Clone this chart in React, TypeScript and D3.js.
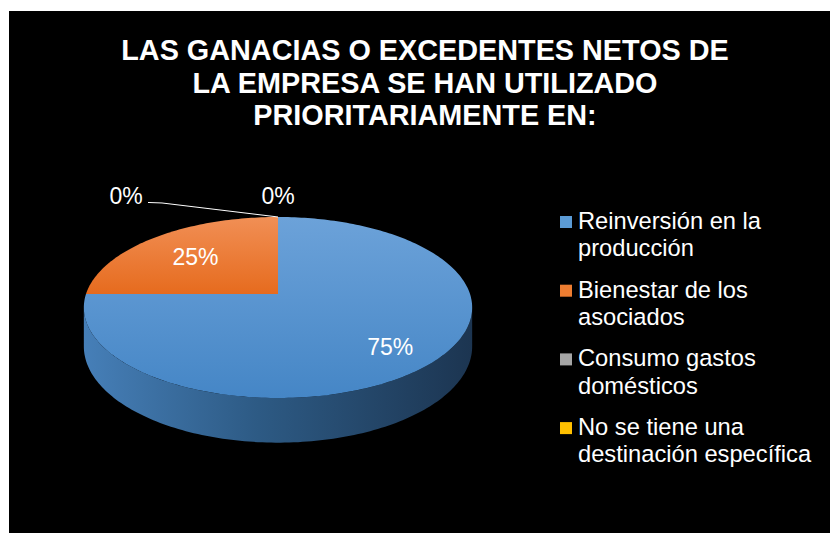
import * as d3 from "d3";

// chart data
const categories = [
  ["Reinversión en la", "producción"],
  ["Bienestar de los", "asociados"],
  ["Consumo gastos", "domésticos"],
  ["No se tiene una", "destinación específica"],
];
const values = [75, 25, 0, 0];
const colors = ["#5b9bd5", "#ed7d31", "#a5a5a5", "#ffc000"];
const titleLines = [
  "LAS GANACIAS O EXCEDENTES NETOS DE",
  "LA EMPRESA SE HAN UTILIZADO",
  "PRIORITARIAMENTE EN:",
];

const W = 830;
const H = 533;
const FONT = "'Liberation Sans', Arial, sans-serif";

// 3d pie geometry (simple perspective tilt)
const CX = 278;
const CY = 294;
const RX = 192;
const RY = 88.5;
const K = 0.149;
const DEPTH = 38;

function proj(theta: number, r = 1, dz = 0): [number, number] {
  const u = r * Math.sin(theta);
  const v = -r * Math.cos(theta);
  const s = 1 / (1 - K * v);
  return [CX + RX * u * s, CY + RY * v * s + dz * s];
}

function arcPoints(a0: number, a1: number, r = 1, dz = 0) {
  const n = Math.max(2, Math.ceil(Math.abs(a1 - a0) / 0.02));
  return d3.range(n + 1).map((i) => proj(a0 + ((a1 - a0) * i) / n, r, dz));
}

const line = d3.line();

export default function App() {
  const pie = d3
    .pie<number>()
    .sort(null)
    .startAngle(0)
    .endAngle(2 * Math.PI);
  const arcs = pie(values);
  const total = d3.sum(values);
  const pct = d3.format(".0%");

  // visible side: between the two silhouette points through the front
  const tR = Math.acos(-K);
  const tL = 2 * Math.PI - tR;
  const sideTop = arcPoints(tR, tL);
  const sideBottom = arcPoints(tL, tR, 1, DEPTH);
  const sidePath = line([...sideTop, ...sideBottom])! + "Z";

  const top0 = proj(0);
  const labelR = [0.76, 0.65];

  const legendX = 560;
  const legendY0 = 229;
  const legendStep = 68.7;
  const lineStep = 27.3;

  return (
    <div style={{ position: "absolute", left: 0, top: 0 }}>
      <svg width={W} height={H} style={{ display: "block" }}>
        <defs>
          <linearGradient id="side" x1="84" x2="472" y1="0" y2="0" gradientUnits="userSpaceOnUse">
            <stop offset="0%" stopColor="#467fb8" />
            <stop offset="45%" stopColor="#2d5a84" />
            <stop offset="100%" stopColor="#1c3551" />
          </linearGradient>
          <linearGradient id="g0" x1="0" x2="0" y1="217" y2="398" gradientUnits="userSpaceOnUse">
            <stop offset="0%" stopColor="#6ca2d9" />
            <stop offset="100%" stopColor="#4586c6" />
          </linearGradient>
          <linearGradient id="g1" x1="0" x2="0" y1="217" y2="294" gradientUnits="userSpaceOnUse">
            <stop offset="0%" stopColor="#f18f55" />
            <stop offset="100%" stopColor="#e66b1e" />
          </linearGradient>
        </defs>
        <rect x={0} y={0} width={W} height={H} fill="#ffffff" />
        <rect x={9} y={11} width={W - 9} height={H - 11} fill="#000000" />

        {titleLines.map((t, i) => (
          <text
            key={i}
            x={425}
            y={60 + i * 32.7}
            textAnchor="middle"
            fill="#ffffff"
            fontFamily={FONT}
            fontWeight="bold"
            fontSize={28.8}
          >
            {t}
          </text>
        ))}

        <path d={sidePath} fill="url(#side)" />

        {arcs.map((a, i) => {
          if (a.endAngle - a.startAngle <= 0) return null;
          const pts = [proj(0, 0), ...arcPoints(a.startAngle, a.endAngle)];
          return (
            <path
              key={i}
              d={line(pts)! + "Z"}
              fill={i < 2 ? `url(#g${i})` : colors[i]}
            />
          );
        })}

        {arcs.map((a, i) => {
          if (a.endAngle - a.startAngle <= 0) return null;
          const mid = (a.startAngle + a.endAngle) / 2;
          const [x, y] = proj(mid, labelR[i] ?? 0.7);
          return (
            <text
              key={i}
              x={x}
              y={y + 9}
              textAnchor="middle"
              fill="#ffffff"
              fontFamily={FONT}
              fontSize={23}
            >
              {pct(a.data / total)}
            </text>
          );
        })}

        {/* zero slices at the top */}
        <path
          d={line([
            [top0[0] - 130, top0[1] - 14.5],
            [top0[0] - 116, top0[1] - 14],
            top0,
          ])!}
          fill="none"
          stroke="#ffffff"
          strokeWidth={1}
        />
        <text
          x={top0[0] - 152}
          y={top0[1] - 13}
          textAnchor="middle"
          fill="#ffffff"
          fontFamily={FONT}
          fontSize={23}
        >
          {pct(values[2] / total)}
        </text>
        <text
          x={top0[0]}
          y={top0[1] - 13}
          textAnchor="middle"
          fill="#ffffff"
          fontFamily={FONT}
          fontSize={23}
        >
          {pct(values[3] / total)}
        </text>

        {categories.map((lines, i) => {
          const by = legendY0 + i * legendStep;
          return (
            <g key={i}>
              <rect x={legendX} y={by - 13} width={12} height={12} fill={colors[i]} />
              {lines.map((l, j) => (
                <text
                  key={j}
                  x={legendX + 18}
                  y={by + j * lineStep}
                  fill="#ffffff"
                  fontFamily={FONT}
                  fontSize={23.7}
                >
                  {l}
                </text>
              ))}
            </g>
          );
        })}
      </svg>
    </div>
  );
}
